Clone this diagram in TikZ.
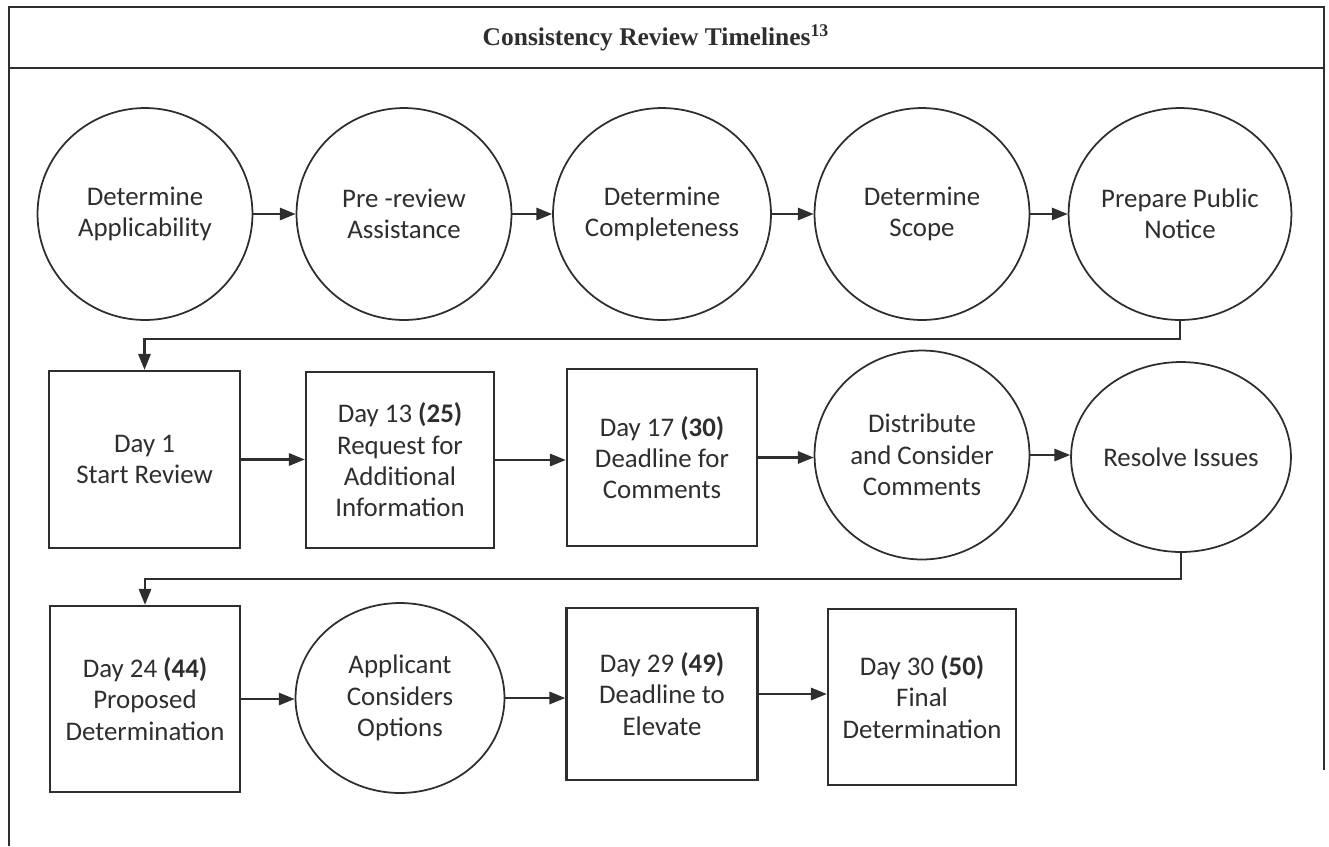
\documentclass[tikz,border=0pt]{standalone}
\usepackage{fontspec}
\setmainfont{Carlito}
\newfontfamily\titlefont{Liberation Serif}
\usepackage{xcolor}
\usepackage{tikz}
\usetikzlibrary{shapes.geometric,arrows.meta}
\definecolor{ink}{HTML}{2E2E2E}

\begin{document}
\begin{tikzpicture}[x=0.02cm,y=-0.02cm,color=ink,
  every node/.style={font=\fontsize{15.3}{17.8}\selectfont},
  stage/.style={ellipse,draw,line width=1pt,align=center,inner sep=0pt,
    minimum width=4.3cm,minimum height=4.24cm},
  daybox/.style={rectangle,draw,line width=1.4pt,align=center,inner sep=0pt,
    minimum width=3.8cm,minimum height=3.54cm},
  arr/.style={line width=1.2pt,-{Triangle[length=9pt,width=7pt]}}]
\useasboundingbox (0,0) rectangle (1329,846);
% frame and title
\draw[line width=1pt] (9,846)--(9,7)--(1324,7)--(1324,770);
\draw[line width=1pt] (9,68)--(1324,68);
\node[font=\titlefont\bfseries\fontsize{14.5}{17}\selectfont] (title) at (656,38)
  {Consistency Review Timelines\textsuperscript{13}};
% first row
\node[stage] (applic) at (145,214) {Determine\\Applicability};
\node[stage] (prerev) at (404,214) {Pre -review\\Assistance};
\node[stage] (complete) at (662,214) {Determine\\Completeness};
\node[stage] (scope) at (922,214) {Determine\\Scope};
\node[stage] (notice) at (1180,214) {Prepare Public\\Notice};
% second row
\node[daybox,minimum width=3.82cm] (start) at (144.5,459.5) {Day 1\\Start Review};
\node[daybox,minimum width=3.76cm,minimum height=3.52cm] (request) at (400,460)
  {Day 13 \textbf{(25)}\\Request for\\Additional\\Information};
\node[daybox] (comments) at (662,457.5) {Day 17 \textbf{(30)}\\Deadline for\\Comments};
\node[stage,minimum height=4.18cm] (distrib) at (922,455) {Distribute\\and Consider\\Comments};
\node[stage,minimum width=4.26cm,minimum height=3.8cm] (resolve) at (1181,457) {Resolve Issues};
% third row
\node[daybox,minimum height=3.72cm] (proposed) at (145,699)
  {Day 24 \textbf{(44)}\\Proposed\\Determination};
\node[stage,minimum width=4.18cm,minimum height=3.8cm] (options) at (400,698)
  {Applicant\\Considers\\Options};
\node[daybox,minimum width=3.82cm,minimum height=3.44cm] (elevate) at (662,694)
  {Day 29 \textbf{(49)}\\Deadline to\\Elevate};
\node[daybox,minimum width=3.76cm,minimum height=3.52cm] (final) at (922,697)
  {Day 30 \textbf{(50)}\\Final\\Determination};
% connectors
\foreach \a/\b in {applic/prerev,prerev/complete,complete/scope,scope/notice,
  start/request,request/comments,comments/distrib,distrib/resolve,
  proposed/options,options/elevate,elevate/final} {
\draw[arr] (\a.east) -- (\a.east -| \b.west);
}
\draw[arr] (notice.south) -- ++(0,18) -| (start.north);
\draw[arr] (resolve.south) -- ++(0,26) -| (proposed.north);
\end{tikzpicture}
\end{document}
